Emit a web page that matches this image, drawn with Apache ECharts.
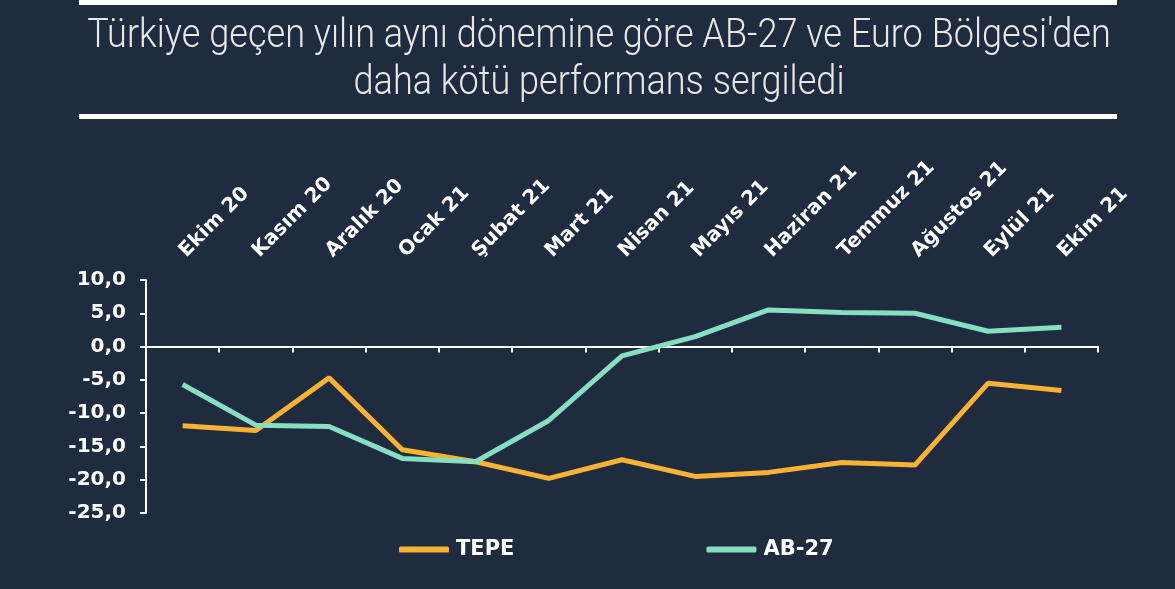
<!DOCTYPE html>
<html>
<head>
<meta charset="utf-8">
<script src="https://cdn.jsdelivr.net/npm/echarts@6/dist/echarts.min.js"></script>
<style>
html,body{margin:0;padding:0;background:#1f2b3f;}
#chart{width:1175px;height:589px;}
</style>
</head>
<body>
<div id="chart"></div>
<script>
const titleLine1 = "Türkiye geçen yılın aynı dönemine göre AB-27 ve Euro Bölgesi'den";
const titleLine2 = "daha kötü performans sergiledi";
const categories = ['Ekim 20','Kasım 20','Aralık 20','Ocak 21','Şubat 21','Mart 21','Nisan 21','Mayıs 21','Haziran 21','Temmuz 21','Ağustos 21','Eylül 21','Ekim 21'];
const tepe = [-11.9, -12.6, -4.7, -15.5, -17.3, -19.8, -17.0, -19.5, -18.9, -17.4, -17.8, -5.5, -6.6];
const ab27 = [-5.7, -11.8, -12.0, -16.8, -17.3, -11.1, -1.4, 1.5, 5.5, 5.1, 5.0, 2.3, 2.9];
const seriesNames = ['TEPE', 'AB-27'];
const yMin = -25, yMax = 10, yStep = 5;

const chart = echarts.init(document.getElementById('chart'));
const white = '#ffffff';
const labelFont = {color: white, fontFamily: 'DejaVu Sans', fontWeight: 'bold', fontSize: 20};
chart.setOption({
  backgroundColor: '#1f2b3f',
  animation: false,
  graphic: [
    {type: 'rect', shape: {x: 79, y: 0, width: 1038, height: 5}, style: {fill: '#ffffff'}},
    {type: 'rect', shape: {x: 79, y: 114, width: 1038, height: 5}, style: {fill: '#ffffff'}},
    {type: 'text', x: 599, y: 37, scaleX: 0.88,
     style: {text: titleLine1, textAlign: 'center', textVerticalAlign: 'middle', fill: '#e8e8e8', font: '300 41px Roboto'}},
    {type: 'text', x: 599, y: 84, scaleX: 0.88,
     style: {text: titleLine2, textAlign: 'center', textVerticalAlign: 'middle', fill: '#e8e8e8', font: '300 41px Roboto'}}
  ],
  legend: {
    left: 394, top: 534, itemGap: 192, itemWidth: 50, itemHeight: 6, icon: 'roundRect',
    textStyle: Object.assign({}, labelFont, {fontSize: 21, padding: [0, 0, 0, 2]}),
    data: seriesNames
  },
  grid: {left: 146, right: 77, top: 280, bottom: 76},
  xAxis: [
    {type: 'category', data: categories, position: 'bottom',
     axisLine: {onZero: true, lineStyle: {color: white, width: 2}},
     axisTick: {show: true, interval: 0, length: 6, lineStyle: {color: white, width: 2}},
     axisLabel: {show: false}, splitLine: {show: false}},
    {type: 'category', data: categories, position: 'top',
     axisLine: {show: false}, axisTick: {show: false},
     axisLabel: Object.assign({}, labelFont, {rotate: -45, margin: 26, interval: 0}), splitLine: {show: false}}
  ],
  yAxis: {
    type: 'value', min: yMin, max: yMax, interval: yStep,
    axisLine: {show: true, onZero: false, lineStyle: {color: white, width: 2}},
    axisTick: {show: true, length: 6, lineStyle: {color: white, width: 2}},
    axisLabel: Object.assign({}, labelFont, {margin: 20, formatter: v => v.toFixed(1).replace('.', ',')}),
    splitLine: {show: false}
  },
  series: [
    {name: seriesNames[0], type: 'line', data: tepe, xAxisIndex: 0, symbol: 'none',
     lineStyle: {color: '#f9b233', width: 5}, itemStyle: {color: '#f9b233'}},
    {name: seriesNames[1], type: 'line', data: ab27, xAxisIndex: 0, symbol: 'none',
     lineStyle: {color: '#85dfc0', width: 5}, itemStyle: {color: '#85dfc0'}}
  ]
});
</script>
</body>
</html>
